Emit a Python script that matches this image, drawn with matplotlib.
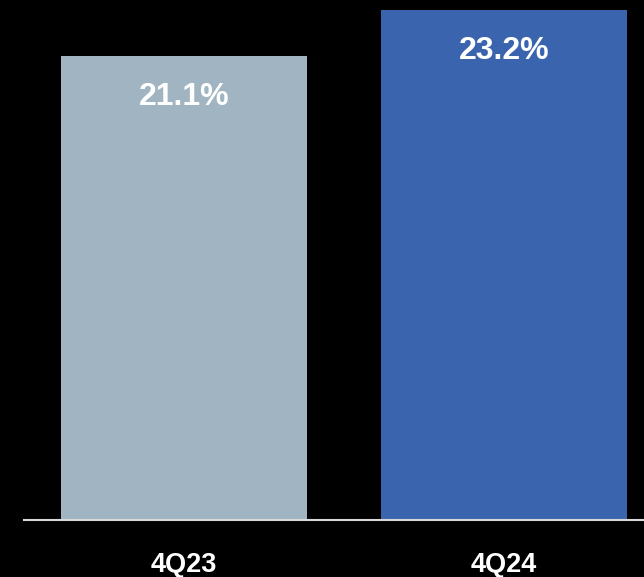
import matplotlib
matplotlib.use("Agg")
import matplotlib.pyplot as plt

categories = ["4Q23", "4Q24"]
values = [21.1, 23.2]
labels = ["21.1%", "23.2%"]
colors = ["#a0b4c1", "#3a64ad"]

W, H = 644, 577
fig = plt.figure(figsize=(W / 100, H / 100), dpi=100, facecolor="black")
# axes spans x=24..644 px, y=0..520 px (from top)
ax = fig.add_axes([24 / W, (H - 520) / H, 620 / W, 520 / H])
ax.set_facecolor("black")

font = dict(family="Liberation Sans", fontweight="bold")

x = range(len(categories))
ax.bar(x, values, width=246 / 320, color=colors, zorder=2)
ax.set_xlim(-0.5, 1.4375)
ax.set_ylim(0, 23.65)

for xi, v, lab in zip(x, values, labels):
    ax.annotate(lab, (xi, v), xytext=(0, -41), textcoords="offset pixels",
                ha="center", va="center", color="white", fontsize=23, **font)

for s in ["top", "right", "left"]:
    ax.spines[s].set_visible(False)
ax.spines["bottom"].set_color("#d9d9d9")
ax.spines["bottom"].set_linewidth(1.5)
ax.set_yticks([])
ax.set_xticks(list(x))
ax.set_xticklabels(categories, color="white", fontsize=19.5, **font)
ax.tick_params(axis="x", length=0, pad=23)

fig.savefig("out.png", dpi=100, facecolor="black")
